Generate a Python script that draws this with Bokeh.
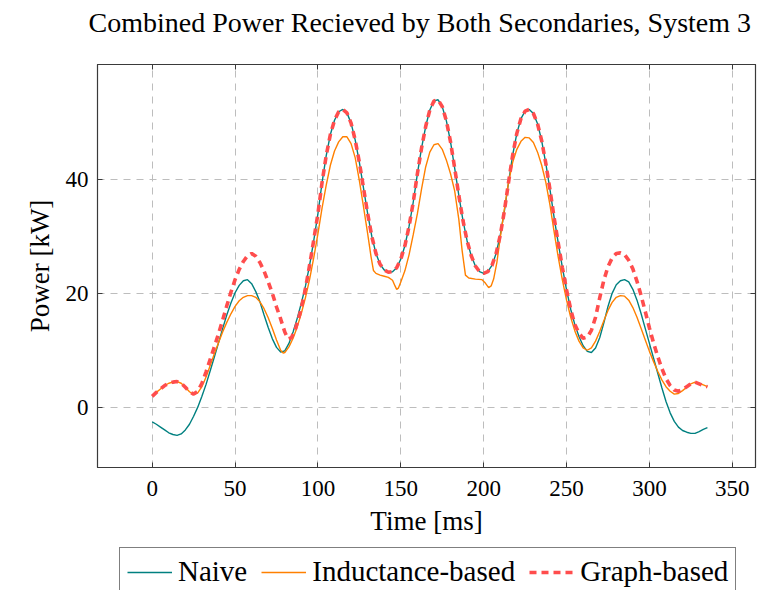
from bokeh.plotting import figure
from bokeh.layouts import column
from bokeh.models import Range1d, FixedTicker, LinearAxis, Legend, LegendItem
from bokeh.embed import file_html
from bokeh.resources import INLINE

# ---------------- data ----------------
naive_t = [0, 2.5, 5, 7.5, 10, 12.5, 15, 17.5, 20, 22.5, 25, 27.5, 30, 32.5, 35, 37.5, 40,
           42.5, 45, 47.5, 50, 52.5, 55, 57.5, 60, 62.5, 65, 67.5, 70, 72.5, 75, 77.5, 80,
           82.5, 85, 87.5, 90, 92.5, 95, 97.5, 100, 102.5, 105, 107.5, 110, 112.5, 115,
           117.5, 120, 122.5, 125, 127.5, 130, 132.5, 135, 137.5, 140, 142.5, 145, 147.5,
           150, 152.5, 155, 157.5, 160, 162.5, 165, 167.5, 170, 172.5, 175, 177.5, 180,
           182.5, 185, 187.5, 190, 192.5, 195, 197.5, 200, 202.5, 205, 207.5, 210, 212.5,
           215, 217.5, 220, 222.5, 225, 227.5, 230, 232.5, 235, 237.5, 240, 242.5, 245,
           247.5, 250, 252.5, 255, 257.5, 260, 262.5, 265, 267.5, 270, 272.5, 275, 277.5,
           280, 282.5, 285, 287.5, 290, 292.5, 295, 297.5, 300, 302.5, 305, 307.5, 310,
           312.5, 315, 317.5, 320, 322.5, 325, 327.5, 330, 332.5, 335]
naive_v = [-2.6, -3.0, -3.5, -4.0, -4.5, -4.8, -4.95, -4.7, -4.0, -3.0, -1.6, 0.0, 1.9, 4.0,
           6.4, 8.8, 11.3, 13.8, 16.2, 18.3, 20.1, 21.4, 22.2, 22.4, 21.7, 20.3, 18.5, 16.2,
           14.0, 12.0, 10.5, 9.7, 9.9, 11.2, 13.2, 15.6, 18.3, 21.3, 25.0, 29.3, 34.0, 39.5,
           44.2, 47.9, 50.4, 51.9, 52.3, 51.7, 49.9, 46.9, 43.0, 38.5, 34.0, 30.0, 27.0, 25.1,
           24.1, 23.7, 23.8, 24.5, 26.0, 28.4, 31.8, 36.0, 41.0, 45.5, 49.3, 52.2, 53.8, 54.0,
           52.8, 50.3, 46.6, 42.0, 37.2, 32.8, 29.2, 26.6, 24.8, 23.8, 23.5, 23.8, 24.9, 27.0,
           30.2, 34.5, 39.5, 44.3, 48.1, 50.7, 52.0, 52.3, 51.6, 49.8, 46.8, 42.8, 38.2, 33.3,
           28.8, 24.5, 20.6, 17.2, 14.5, 12.4, 10.8, 9.8, 9.6, 10.4, 12.2, 14.8, 17.7, 20.0,
           21.5, 22.2, 22.4, 22.0, 20.7, 18.8, 16.4, 13.8, 11.2, 8.6, 6.0, 3.4, 1.0, -1.0,
           -2.5, -3.5, -4.1, -4.4, -4.6, -4.6, -4.3, -3.9, -3.6]

ind_t = [0, 2.5, 5, 7.5, 10, 12.5, 15, 17.5, 20, 22.5, 25, 27.5, 30, 32.5, 35, 37.5, 40,
         42.5, 45, 47.5, 50, 52.5, 55, 57.5, 60, 62.5, 65, 67.5, 70, 72.5, 75, 77.5, 79, 80,
         82.5, 85, 87.5, 90, 92.5, 95, 97.5, 100, 102.5, 105, 107.5, 110, 112.5, 115, 117.5,
         120, 122.5, 125, 127.5, 130, 132, 133.5, 135, 137.5, 140, 142.5, 145, 146.5, 147.5,
         148.5, 150, 152.5, 155, 157.5, 160, 162.5, 165, 167.5, 170, 172.5, 175, 177.5, 180,
         182.5, 185, 187, 189, 191, 195, 199, 201, 203, 204.5, 206, 208, 210, 212.5, 215,
         217.5, 220, 222.5, 225, 227.5, 230, 232.5, 235, 237.5, 240, 242.5, 245, 247.5, 250,
         252.5, 255, 257.5, 260, 262.5, 265, 267.5, 270, 272.5, 275, 277.5, 280, 282.5, 285,
         287.5, 290, 292.5, 295, 297.5, 300, 302.5, 305, 307.5, 310, 312.5, 315, 317.5, 320,
         322.5, 325, 327.5, 330, 332.5, 335]
ind_v = [2.0, 2.6, 3.2, 3.8, 4.2, 4.4, 4.5, 4.2, 3.5, 2.7, 2.2, 2.5, 3.6, 5.3, 7.3, 9.4, 11.3,
         13.2, 14.9, 16.4, 17.7, 18.7, 19.3, 19.6, 19.6, 19.3, 18.5, 17.3, 15.7, 13.8, 11.8,
         10.0, 9.5, 9.6, 10.6, 12.1, 14.1, 16.5, 19.3, 22.5, 26.3, 30.5, 35.0, 39.0, 42.5,
         45.0, 46.6, 47.5, 47.5, 46.3, 43.8, 39.8, 35.2, 30.5, 26.5, 24.0, 23.5, 23.2, 23.0,
         22.8, 22.3, 21.3, 20.7, 20.9, 22.0, 24.0, 26.8, 30.3, 34.0, 38.3, 42.2, 44.8, 46.1,
         46.3, 45.3, 43.4, 41.0, 38.0, 33.0, 27.5, 23.2, 22.7, 22.5, 22.4, 21.8, 21.0, 21.3,
         22.5, 25.5, 29.8, 34.8, 39.5, 43.0, 45.3, 46.7, 47.4, 47.3, 46.5, 44.8, 42.5, 39.5,
         35.5, 30.8, 26.3, 22.3, 18.8, 15.8, 13.4, 11.6, 10.4, 10.0, 10.4, 11.6, 13.3, 15.2,
         17.0, 18.4, 19.3, 19.6, 19.5, 18.8, 17.5, 15.8, 13.8, 11.8, 9.8, 8.0, 6.3, 4.8, 3.6,
         2.8, 2.3, 2.4, 2.9, 3.5, 4.1, 4.4, 4.2, 3.9, 3.6]

graph_t = [0, 2.5, 5, 7.5, 10, 12.5, 15, 17.5, 20, 22.5, 25, 27.5, 30, 32.5, 35, 37.5, 40,
           42.5, 45, 47.5, 50, 52.5, 55, 57.5, 60, 62.5, 65, 67.5, 70, 72.5, 75, 77.5, 80, 82,
           84, 86.5, 89, 91.5, 94, 96.5, 100, 102.5, 105, 107.5, 110, 112.5, 115, 117.5, 120,
           122.5, 125, 127.5, 130, 132.5, 135, 137.5, 140, 142.5, 145, 147.5, 150, 152.5, 155,
           157.5, 160, 162.5, 165, 167.5, 170, 172.5, 175, 177.5, 180, 182.5, 185, 187.5, 190,
           192.5, 195, 197.5, 200, 202.5, 205, 207.5, 210, 212.5, 215, 217.5, 220, 222.5, 225,
           227.5, 230, 232.5, 235, 237.5, 240, 242.5, 245, 247.5, 250, 252.5, 255, 257.5, 260,
           262.5, 265, 267.5, 270, 272.5, 275, 277.5, 280, 282.5, 285, 287.5, 290, 292.5, 295,
           297.5, 300, 302.5, 305, 307.5, 310, 312.5, 315, 317.5, 320, 322.5, 325, 327.5, 330,
           332.5, 335]
graph_v = [1.9, 2.6, 3.2, 3.8, 4.2, 4.4, 4.5, 4.2, 3.5, 2.7, 2.3, 2.8, 4.2, 6.2, 8.4, 10.6,
           12.9, 15.3, 17.8, 20.2, 22.4, 24.2, 25.6, 26.6, 27.0, 26.5, 25.4, 23.9, 22.0, 20.0,
           17.6, 15.5, 13.2, 12.0, 12.2, 13.8, 16.3, 19.4, 23.3, 27.6, 34.0, 39.5, 44.2, 47.9,
           50.4, 51.9, 52.3, 51.7, 49.9, 46.9, 43.0, 38.5, 34.0, 30.0, 27.0, 25.1, 24.1, 23.7,
           23.8, 24.5, 26.0, 28.4, 31.8, 36.0, 41.0, 45.5, 49.3, 52.2, 53.8, 54.0, 52.8, 50.3,
           46.6, 42.0, 37.2, 32.8, 29.2, 26.6, 24.8, 23.8, 23.5, 23.8, 24.9, 27.0, 30.2, 34.5,
           39.5, 44.3, 48.1, 50.7, 52.0, 52.3, 51.6, 49.8, 46.8, 42.8, 38.2, 33.3, 28.8, 24.5,
           20.6, 17.2, 14.5, 13.0, 12.1, 12.3, 13.5, 15.8, 19.2, 22.3, 24.7, 26.2, 27.0, 27.1,
           26.8, 25.8, 24.3, 22.1, 19.6, 16.8, 13.9, 11.3, 8.9, 6.8, 5.0, 3.8, 3.0, 2.8, 3.1,
           3.6, 4.1, 4.4, 4.1, 3.8, 3.6]

x_ticks = [0, 50, 100, 150, 200, 250, 300, 350]
y_ticks = [0, 20, 40]
series_names = ["Naive", "Inductance-based", "Graph-based"]
series_colors = ["#008080", "#ff8000", "#ff4d4d"]
title_text = "Combined Power Recieved by Both Secondaries, System 3"

FONT = "Liberation Serif"
FRAME = "#3a3a3a"
W = 771

# ---- title strip ----
head = figure(width=W, height=50, output_backend="svg", toolbar_location=None,
              x_range=Range1d(0, 1), y_range=Range1d(0, 1),
              x_axis_type=None, y_axis_type=None,
              min_border_left=97, min_border_right=16, min_border_top=0, min_border_bottom=0,
              title=title_text)
head.outline_line_color = None
head.grid.visible = False
head.title.text_font = FONT
head.title.text_font_size = "28px"
head.title.text_font_style = "normal"
head.title.text_color = "black"
head.title.align = "left"
head.title.offset = -9
head.title.vertical_align = "top"
head.title.standoff = 12

# ---- main chart ----
p = figure(width=W, height=495, output_backend="svg", toolbar_location=None,
           x_range=Range1d(-33, 364), y_range=Range1d(-10.6, 60.2),
           min_border_left=97, min_border_right=16, min_border_top=14, min_border_bottom=78)

p.outline_line_color = FRAME
p.outline_line_width = 1.2
p.background_fill_color = "white"
p.border_fill_color = "white"

xt = FixedTicker(ticks=x_ticks)
yt = FixedTicker(ticks=y_ticks)

for ax, tk in ((p.xaxis[0], xt), (p.yaxis[0], yt)):
    ax.ticker = tk
    ax.major_tick_in = 5
    ax.major_tick_out = 0
    ax.minor_tick_line_color = None
    ax.axis_line_color = FRAME
    ax.major_tick_line_color = FRAME
    ax.major_label_text_font = FONT
    ax.major_label_text_font_size = "23px"
    ax.major_label_text_color = "black"
    ax.axis_label_text_font = FONT
    ax.axis_label_text_font_size = "27px"
    ax.axis_label_text_font_style = "normal"
    ax.axis_label_text_color = "black"

p.xaxis.axis_label = "Time [ms]"
p.yaxis.axis_label = "Power [kW]"
p.xaxis.major_label_standoff = 13
p.xaxis.axis_label_standoff = 7
p.yaxis.major_label_standoff = 9
p.yaxis.axis_label_standoff = 8
p.yaxis.major_label_orientation = "horizontal"

# ticks on top and right (no labels)
top = LinearAxis(ticker=FixedTicker(ticks=x_ticks), major_tick_in=5, major_tick_out=0,
                 minor_tick_line_color=None, axis_line_color=FRAME, major_tick_line_color=FRAME,
                 major_label_text_font_size="1px", major_label_text_alpha=0, major_label_standoff=0)
right = LinearAxis(ticker=FixedTicker(ticks=y_ticks), major_tick_in=5, major_tick_out=0,
                   minor_tick_line_color=None, axis_line_color=FRAME, major_tick_line_color=FRAME,
                   major_label_text_font_size="1px", major_label_text_alpha=0, major_label_standoff=0)
p.add_layout(top, "above")
p.add_layout(right, "right")

for g in (p.xgrid[0], p.ygrid[0]):
    g.grid_line_color = "#bdbdbd"
    g.grid_line_dash = "7 6"
    g.grid_line_width = 1
p.xgrid.ticker = xt
p.ygrid.ticker = yt

p.line(naive_t, naive_v, line_color=series_colors[0], line_width=1.4)
p.line(ind_t, ind_v, line_color=series_colors[1], line_width=1.4)
p.line(graph_t, graph_v, line_color=series_colors[2], line_width=3.6, line_dash="7 5")

# ---- legend strip below the chart (same series; its ranges keep the lines out of view) ----
leg = figure(width=W, height=45, output_backend="svg", toolbar_location=None,
             x_range=Range1d(1000, 1001), y_range=Range1d(1000, 1001),
             x_axis_type=None, y_axis_type=None,
             min_border_left=97, min_border_right=16, min_border_top=0, min_border_bottom=0)
leg.outline_line_color = None
leg.grid.visible = False
l1 = leg.line(naive_t, naive_v, line_color=series_colors[0], line_width=1.4)
l2 = leg.line(ind_t, ind_v, line_color=series_colors[1], line_width=1.4)
l3 = leg.line(graph_t, graph_v, line_color=series_colors[2], line_width=3.6, line_dash="7 5")

legend = Legend(items=[LegendItem(label=series_names[0], renderers=[l1]),
                       LegendItem(label=series_names[1], renderers=[l2]),
                       LegendItem(label=series_names[2], renderers=[l3])],
                orientation="horizontal", location=(22, -6),
                label_text_font=FONT, label_text_font_size="29px", label_text_color="black",
                glyph_width=45, glyph_height=20, label_standoff=6, spacing=14,
                padding=7, margin=0,
                border_line_color="black", border_line_width=1,
                background_fill_color="white", background_fill_alpha=1)
leg.add_layout(legend, "center")

layout = column(head, p, leg, spacing=0)
open("out.html", "w").write(file_html(layout, INLINE))
